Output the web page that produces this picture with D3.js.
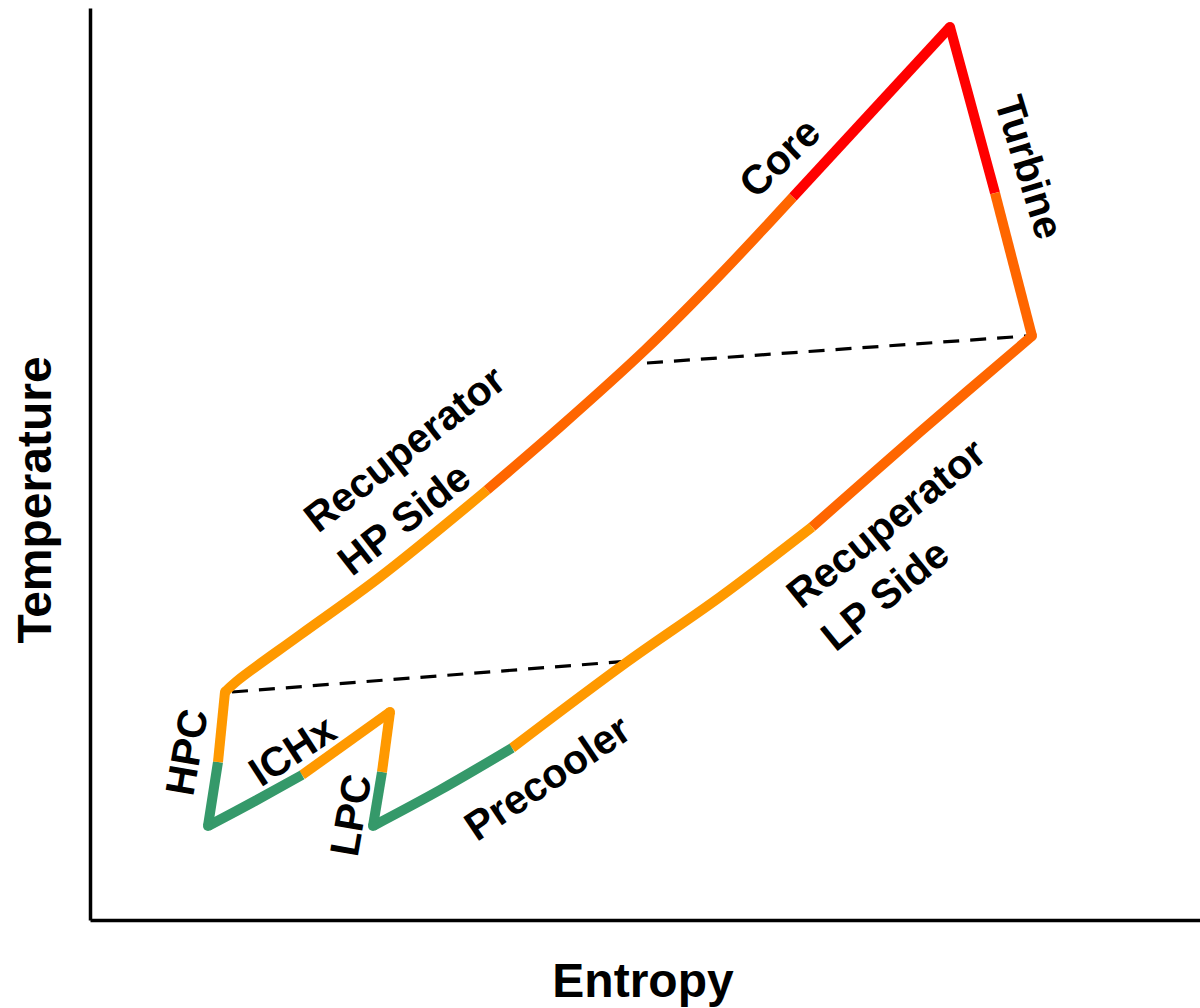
<!DOCTYPE html>
<html>
<head>
<meta charset="utf-8">
<script src="https://cdn.jsdelivr.net/npm/d3@7"></script>
<style>
  body { margin: 0; background: #fff; }
  text { font-family: 'Liberation Sans', Arial, sans-serif; font-weight: bold; fill: #000; }
</style>
</head>
<body>
<svg id="TsChart"></svg>
<script>
// ------------- T-s diagram of a recuperated, intercooled cycle -------------
// entropy (s) and temperature (T) in arbitrary units

// each line is one process, bands give the heat band of every segment
const hpcLine = [[1.18, 0.94], [1.28, 1.58], [1.35, 2.28]];
const hpcBands = ['cool', 'warm'];

const hpRecupLine = [[1.35, 2.28], [1.47, 2.39], [2.10, 2.85], [2.90, 3.43], [3.97, 4.30],
  [4.70, 4.93], [5.55, 5.70], [6.30, 6.45], [7.03, 7.23]];
const hpRecupBands = ['warm', 'warm', 'warm', 'warm', 'hot', 'hot', 'hot', 'hot'];

const coreLine = [[7.03, 7.23], [8.60, 8.93]];
const coreBands = ['hottest'];

const turbineLine = [[8.60, 8.93], [9.05, 7.27], [9.42, 5.84]];
const turbineBands = ['hottest', 'hot'];

const lpRecupLine = [[9.42, 5.84], [8.30, 4.88], [7.22, 3.93], [6.30, 3.23], [5.37, 2.58], [4.22, 1.72]];
const lpRecupBands = ['hot', 'hot', 'warm', 'warm', 'warm'];

const precoolerLine = [[4.22, 1.72], [3.50, 1.30], [2.83, 0.94]];
const precoolerBands = ['cool', 'cool'];

const lpcLine = [[2.83, 0.94], [2.92, 1.48], [3.00, 2.08]];
const lpcBands = ['cool', 'warm'];

const ichxLine = [[3.00, 2.08], [2.12, 1.45], [1.65, 1.19], [1.18, 0.94]];
const ichxBands = ['warm', 'cool', 'cool'];

// sharp corners of the cycle
const corners = [[1.18, 0.94, 'cool'], [1.35, 2.28, 'warm'], [8.60, 8.93, 'hottest'],
  [9.42, 5.84, 'hot'], [2.83, 0.94, 'cool'], [3.00, 2.08, 'warm']];

// recuperator pinch lines
const lowPinch = [[1.42, 2.28], [5.40, 2.59]];
const highPinch = [[5.57, 5.57], [9.37, 5.84]];

const bandNames = ['cool', 'warm', 'hot', 'hottest'];
const bandColors = ['#35996a', '#ff9900', '#ff6600', '#ff0000'];

const labels = [
  { lines: ['Core'], s: 6.89, T: 7.63, angle: -44, anchor: 'middle' },
  { lines: ['Turbine'], s: 9.40, T: 7.53, angle: 73, anchor: 'middle' },
  { lines: ['Recuperator', 'HP Side'], s: 2.28, T: 3.86, angle: -38, anchor: 'start' },
  { lines: ['Recuperator', 'LP Side'], s: 7.11, T: 3.10, angle: -39, anchor: 'start' },
  { lines: ['Precooler'], s: 4.57, T: 1.43, angle: -34, anchor: 'middle' },
  { lines: ['HPC'], s: 0.96, T: 1.68, angle: -80, anchor: 'middle' },
  { lines: ['ICHx'], s: 2.02, T: 1.70, angle: -33, anchor: 'middle' },
  { lines: ['LPC'], s: 2.60, T: 1.05, angle: -80, anchor: 'middle' }
];

function getConfig() {
  let width = 1200;
  let height = 1008;
  let margin = { top: 8, right: 0, bottom: 88, left: 90 };
  let container = d3.select('#TsChart');
  container.attr('width', width).attr('height', height);
  return { width, height, margin, container };
}

function getScales(config) {
  let { width, height, margin } = config;
  let xScale = d3.scaleLinear()
    .domain([0, 11.1])
    .range([margin.left, width - margin.right]);
  let yScale = d3.scaleLinear()
    .domain([0, 9.12])
    .range([height - margin.bottom, margin.top]);
  return { xScale, yScale };
}

function drawAxes(scales, config) {
  let { xScale, yScale } = scales;
  let { container, margin, height, width } = config;

  let axisX = d3.axisBottom(xScale).tickValues([]).tickSizeOuter(0);
  container.append('g')
    .attr('transform', `translate(0,${height - margin.bottom})`)
    .call(axisX)
    .select('.domain').attr('stroke', '#000').attr('stroke-width', 3.5);

  let axisY = d3.axisLeft(yScale).tickValues([]).tickSizeOuter(0);
  container.append('g')
    .attr('transform', `translate(${margin.left},0)`)
    .call(axisY)
    .select('.domain').attr('stroke', '#000').attr('stroke-width', 3.5);

  container.append('text')
    .attr('x', (margin.left + width) / 2 - 2)
    .attr('y', 997)
    .attr('text-anchor', 'middle')
    .style('font-size', '48px')
    .text('Entropy');

  container.append('text')
    .attr('transform', `translate(51,${(margin.top + height - margin.bottom) / 2 + 36}) rotate(-90)`)
    .attr('text-anchor', 'middle')
    .style('font-size', '48px')
    .text('Temperature');
}

// split one process into runs of the same band
function toRuns(pts, bands) {
  let runs = [];
  bands.forEach((b, i) => {
    let last = runs[runs.length - 1];
    if (last && last.band === b) last.pts.push(pts[i + 1]);
    else runs.push({ band: b, pts: [pts[i], pts[i + 1]] });
  });
  return runs;
}

function drawCycle(scales, config) {
  let { xScale, yScale } = scales;
  let { container } = config;
  let color = d3.scaleOrdinal().domain(bandNames).range(bandColors);

  let line = d3.line()
    .x(d => xScale(d[0]))
    .y(d => yScale(d[1]))
    .curve(d3.curveCatmullRom.alpha(0.5));

  let runs = [].concat(
    toRuns(hpcLine, hpcBands),
    toRuns(hpRecupLine, hpRecupBands),
    toRuns(coreLine, coreBands),
    toRuns(turbineLine, turbineBands),
    toRuns(lpRecupLine, lpRecupBands),
    toRuns(precoolerLine, precoolerBands),
    toRuns(lpcLine, lpcBands),
    toRuns(ichxLine, ichxBands)
  );

  let body = container.append('g');

  // dashed pinch lines
  body.selectAll('.pinch').data([lowPinch, highPinch])
    .enter().append('path')
    .attr('class', 'pinch')
    .attr('d', d3.line().x(d => xScale(d[0])).y(d => yScale(d[1])))
    .attr('fill', 'none')
    .attr('stroke', '#000')
    .attr('stroke-width', 3.2)
    .attr('stroke-dasharray', '16,11');

  body.selectAll('.run').data(runs)
    .enter().append('path')
    .attr('class', 'run')
    .attr('d', d => line(d.pts))
    .attr('fill', 'none')
    .attr('stroke', d => color(d.band))
    .attr('stroke-width', 10)
    .attr('stroke-linejoin', 'round')
    .attr('stroke-linecap', 'butt');

  body.selectAll('.corner').data(corners)
    .enter().append('circle')
    .attr('class', 'corner')
    .attr('cx', d => xScale(d[0]))
    .attr('cy', d => yScale(d[1]))
    .attr('r', 5)
    .attr('fill', d => color(d[2]));
}

function drawLabels(scales, config) {
  let { xScale, yScale } = scales;
  let { container } = config;

  let texts = container.selectAll('.label').data(labels)
    .enter().append('text')
    .attr('class', 'label')
    .attr('transform', d => `translate(${xScale(d.s)},${yScale(d.T)}) rotate(${d.angle})`)
    .attr('text-anchor', d => d.anchor)
    .style('font-size', '41px');

  texts.selectAll('tspan')
    .data(d => d.lines.map((t, i) => ({ t, i, n: d.lines.length })))
    .enter().append('tspan')
    .attr('x', 0)
    .attr('dy', d => d.n === 1 ? '0.36em' : (d.i === 0 ? 0 : 55))
    .text(d => d.t);
}

function drawChart() {
  let config = getConfig();
  let scales = getScales(config);
  drawAxes(scales, config);
  drawCycle(scales, config);
  drawLabels(scales, config);
}

drawChart();
</script>
</body>
</html>
